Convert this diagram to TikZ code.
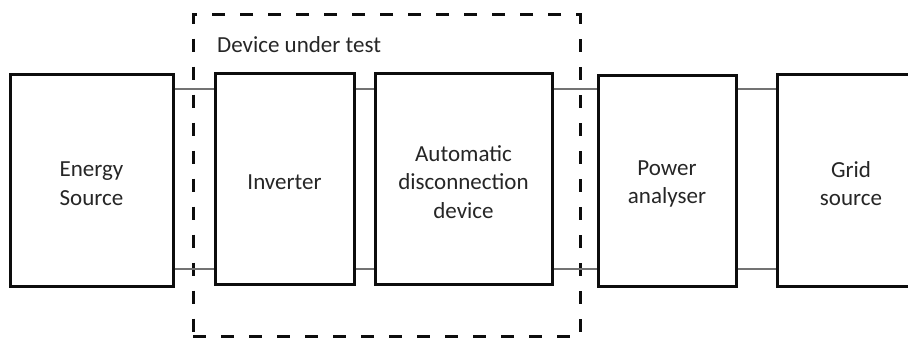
\documentclass[tikz,border=0pt]{standalone}
\usepackage{fontspec}
\setmainfont{Carlito}
\begin{document}
\begin{tikzpicture}[x=1pt,y=-1pt,
  blk/.style={draw=black!95,line width=3pt,fill=white,inner sep=0pt},
  blktext/.style={inner sep=0pt,align=center,yshift=-3.5pt,
    font=\fontsize{23}{28.5}\selectfont,text=black!85},
  wire/.style={draw=black!55,line width=2pt},
  dut/.style={draw=black!95,line width=3pt,dash pattern=on 13pt off 15pt}]
\useasboundingbox (0,0) rectangle (908,338);
\clip (0,0) rectangle (908,338);
% DUT frame
\node[dut,inner sep=0pt,minimum width=387pt,minimum height=322pt] (frame) at (386.5,175.5) {};
\node[anchor=base west,inner sep=0pt,font=\fontsize{23}{28}\selectfont,text=black!85] (lbl) at (217,52) {Device under test};
% blocks
\node[blk,minimum width=163pt,minimum height=212pt,label={[blktext]center:Energy\\Source}] (es) at (91.5,180) {};
\node[blk,minimum width=139pt,minimum height=211pt,label={[blktext]center:Inverter}] (inv) at (284.5,178.5) {};
\node[blk,minimum width=177pt,minimum height=211pt,label={[blktext]center:Automatic\\disconnection\\device}] (add) at (463.5,178.5) {};
\node[blk,minimum width=138pt,minimum height=211pt,label={[blktext]center:Power\\analyser}] (pa) at (667,180.5) {};
\node[blk,minimum width=150pt,minimum height=212pt,label={[blktext,xshift=-1pt]center:Grid\\source}] (gs) at (852,180) {};
% wires
\foreach \a/\b in {es/inv,inv/add,add/pa,pa/gs}{
  \draw[wire] (\a.east |- 0,89) -- (\b.west |- 0,89);
  \draw[wire] (\a.east |- 0,269) -- (\b.west |- 0,269);
}
\end{tikzpicture}
\end{document}
